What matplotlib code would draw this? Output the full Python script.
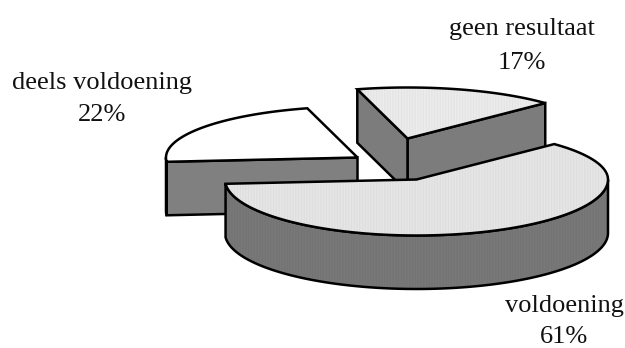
import numpy as np
import matplotlib
matplotlib.use("Agg")
import matplotlib.pyplot as plt
from matplotlib.patches import Polygon

labels = ["voldoening", "deels voldoening", "geen resultaat"]
shares = [61, 22, 17]

START_ANGLE = 44.0  # first slice runs clockwise from here
CENTER = (416.5, 179.5)
RX = 191.5
RY_FRONT, RY_BACK = 56.0, 51.0  # far rim looks flatter in the original
DEPTH = 53.5
OFFSETS = [(0, 0), (-59, -22), (-9, -41)]
TOPS = ["#e6e6e6", "#ffffff", "#ececec"]
SIDES = ["#787878", "#808080", "#7c7c7c"]
LABEL_POS = [(564, 306), (102, 83), (522, 29)]
PCT_POS = [(564, 337), (102, 115), (522, 63)]
DRAW_ORDER = [1, 2, 0]


def ring(cx, cy, lo, hi, n=120):
    t = np.radians(np.linspace(lo, hi, n))
    s = np.sin(t)
    return np.column_stack([cx + RX * np.cos(t), cy - np.where(s > 0, RY_BACK, RY_FRONT) * s])


def draw_face(ax, pts, color, z, striped=False):
    ax.add_patch(Polygon(pts, closed=True, facecolor=color, edgecolor="none", zorder=z))
    if striped:
        ax.add_patch(Polygon(pts, closed=True, facecolor="none", edgecolor="#00000008",
                             hatch="||||||", lw=0, zorder=z))
    ax.add_patch(Polygon(pts, closed=True, facecolor="none", edgecolor="black",
                         lw=1.8, joinstyle="miter", zorder=z))


def draw_slice(ax, i, lo, hi, z):
    cx, cy = CENTER[0] + OFFSETS[i][0], CENTER[1] + OFFSETS[i][1]
    down = np.array([0, DEPTH])
    apex = np.array([cx, cy])
    # cut faces, only those turned to the viewer
    for a, visible in ((lo, np.cos(np.radians(lo)) > 0), (hi, np.cos(np.radians(hi)) < 0)):
        if visible:
            p = ring(cx, cy, a, a, 1)[0]
            draw_face(ax, [apex, p, p + down, apex + down], SIDES[i], z)
    # outer wall where the rim is on the near half
    for k in range(-1, 1):
        a0, a1 = max(lo, 180 + 360 * k), min(hi, 360 + 360 * k)
        if a1 > a0:
            arc = ring(cx, cy, a0, a1)
            draw_face(ax, np.vstack([arc, arc[::-1] + down]), SIDES[i], z + 0.1, striped=True)
    top = np.vstack([apex, ring(cx, cy, lo, hi)])
    draw_face(ax, top, TOPS[i], z + 0.2, striped=TOPS[i] != "#ffffff")


fig = plt.figure(figsize=(6.25, 3.48), dpi=100)
ax = fig.add_axes([0, 0, 1, 1])
ax.set_xlim(0, 625)
ax.set_ylim(348, 0)
ax.axis("off")

edges = START_ANGLE - np.cumsum([0] + [s * 3.6 / sum(shares) * 100 for s in shares])
for z, i in enumerate(DRAW_ORDER):
    hi, lo = edges[i], edges[i + 1]
    draw_slice(ax, i, lo, hi, 2 + z)

for i, name in enumerate(labels):
    ax.text(*LABEL_POS[i], name, ha="center", va="center", fontsize=19,
            family="Liberation Serif", color="#111111", zorder=10, clip_on=False)
    ax.text(*PCT_POS[i], f"{shares[i]}%", ha="center", va="center", fontsize=19,
            family="Liberation Serif", color="#111111", zorder=10, clip_on=False)

fig.savefig("out.png", dpi=100)
